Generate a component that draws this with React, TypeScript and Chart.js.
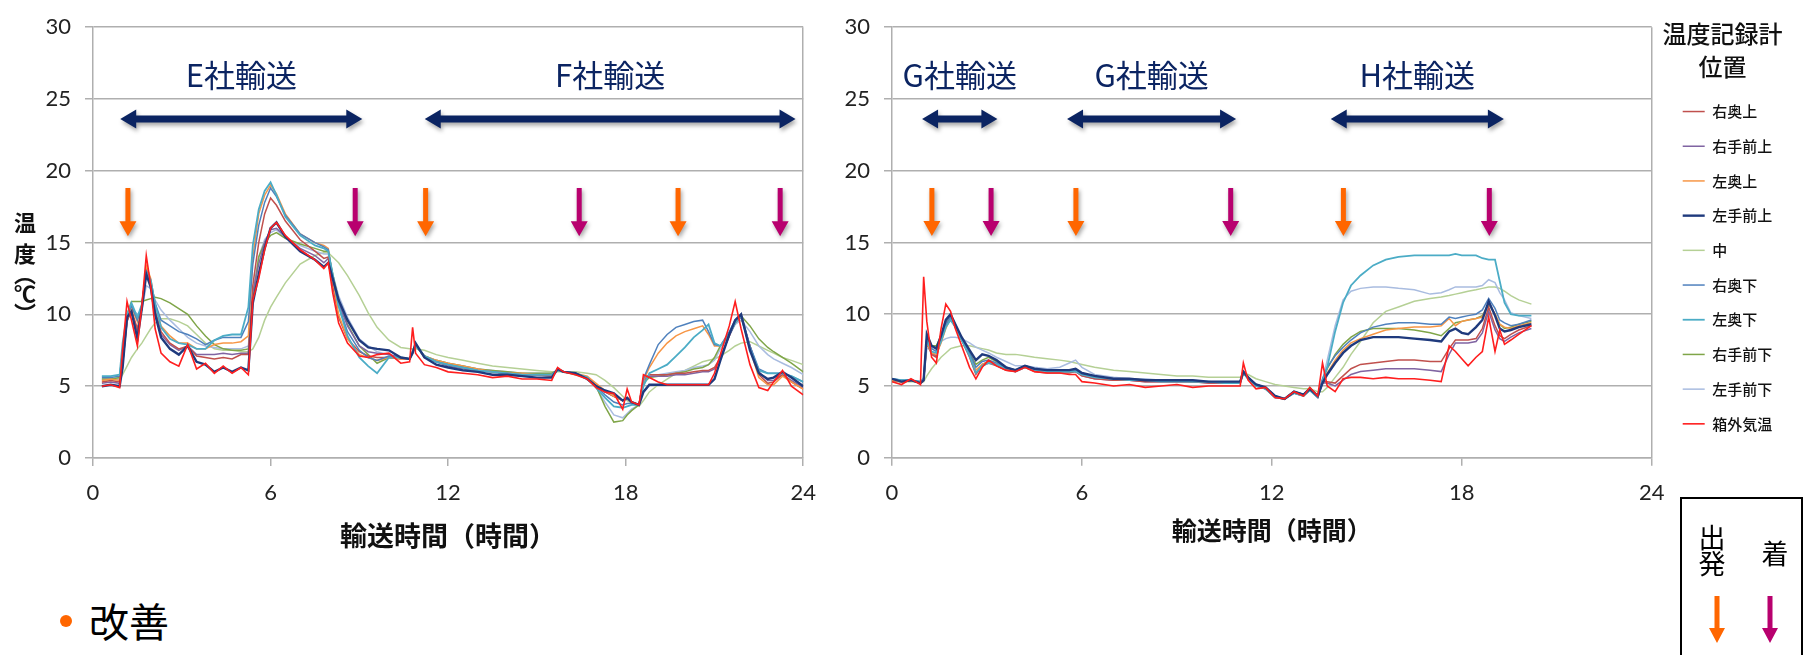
import React, { useEffect, useRef } from "react";
import { Chart, registerables } from "chart.js";

Chart.register(...registerables);

// ---------- series meta ----------
const SERIES_NAMES = ["右奥上", "右手前上", "左奥上", "左手前上", "中", "右奥下", "左奥下", "右手前下", "左手前下", "箱外気温"];
const SERIES_COLORS = ["#C0504D", "#8064A2", "#F79646", "#1F3A7D", "#B5D095", "#4F81BD", "#4BACC6", "#7FA548", "#A9BCE0", "#FF1E1E"];
const SERIES_WIDTHS = [1.5, 1.5, 1.5, 2.4, 1.5, 1.5, 1.8, 1.5, 1.5, 1.6];
const SERIES_ORDER = [5, 6, 4, 1, 9, 3, 2, 7, 8, 0];

// ---------- left chart (E社 / F社) ----------
const LEFT_T = [0.3, 0.6, 0.9, 1.0, 1.15, 1.3, 1.5, 1.65, 1.8, 1.95, 2.1, 2.3, 2.6, 2.9, 3.2, 3.5, 3.8, 4.1, 4.4, 4.7, 5.0, 5.25, 5.4, 5.6, 5.8, 6.0, 6.2, 6.5, 7.0, 7.5, 7.8, 7.95, 8.1, 8.3, 8.6, 9.0, 9.3, 9.6, 10.0, 10.4, 10.7, 10.8, 10.9, 11.2, 11.6, 12.0, 12.5, 13.0, 13.5, 14.0, 14.5, 15.0, 15.5, 15.7, 15.9, 16.3, 16.7, 17.0, 17.3, 17.6, 17.9, 18.05, 18.2, 18.45, 18.6, 18.8, 19.1, 19.4, 19.7, 20.0, 20.3, 20.6, 20.8, 21.0, 21.2, 21.5, 21.7, 21.9, 22.2, 22.5, 22.8, 23.0, 23.3, 23.6, 24.0];

const L_MIGI_OKU_UE = [5.3, 5.4, 5.3, 6.5, 9.5, 10.3, 9.0, 10.5, 13.2, 12.2, 10.3, 8.8, 8.0, 7.6, 7.8, 7.1, 7.0, 6.9, 7.0, 6.9, 7.2, 7.2, 12.0, 15.0, 17.0, 18.1, 17.6, 16.5, 15.2, 14.4, 13.9, 14.0, 12.0, 9.8, 8.3, 7.4, 7.1, 7.0, 7.0, 6.9, 6.9, 7.4, 7.9, 7.0, 6.7, 6.5, 6.3, 6.1, 6.0, 5.9, 5.8, 5.8, 5.7, 6.2, 6.0, 5.9, 5.6, 5.1, 4.6, 4.3, 4.0, 4.2, 3.9, 3.7, 5.5, 5.8, 5.8, 5.8, 5.9, 5.9, 6.0, 6.1, 6.1, 6.3, 7.0, 8.5, 9.5, 9.9, 7.8, 5.8, 5.2, 5.3, 5.8, 5.3, 4.8];
const L_MIGI_TEMAE_UE = [5.2, 5.3, 5.2, 6.5, 9.6, 10.2, 8.8, 10.4, 13.0, 12.0, 10.2, 8.6, 7.9, 7.5, 7.8, 7.2, 7.2, 7.2, 7.3, 7.2, 7.3, 7.3, 11.5, 13.5, 15.0, 15.9, 16.0, 15.4, 14.6, 14.1, 13.6, 13.9, 12.5, 10.8, 9.2, 7.8, 7.4, 7.3, 7.2, 7.0, 6.9, 7.4, 7.9, 7.0, 6.7, 6.4, 6.2, 6.1, 6.0, 5.9, 5.8, 5.8, 5.7, 6.2, 6.0, 5.9, 5.6, 5.0, 4.6, 4.3, 4.0, 4.1, 3.9, 3.7, 5.4, 5.7, 5.7, 5.7, 5.8, 5.8, 5.9, 6.0, 6.0, 6.2, 7.0, 8.5, 9.4, 9.8, 7.8, 6.0, 5.4, 5.4, 5.8, 5.4, 4.9];
const L_HIDARI_OKU_UE = [5.4, 5.5, 5.4, 6.8, 9.7, 10.5, 9.5, 10.7, 13.4, 12.5, 10.7, 9.2, 8.5, 8.0, 8.0, 7.6, 7.6, 7.9, 8.0, 8.0, 8.1, 8.5, 14.0, 17.0, 18.3, 19.0, 18.4, 17.0, 15.6, 15.0, 14.8, 14.6, 12.5, 10.0, 8.3, 7.2, 7.0, 6.8, 7.0, 6.9, 6.9, 7.4, 7.8, 7.1, 6.8, 6.6, 6.4, 6.2, 6.0, 5.9, 5.9, 5.8, 5.8, 6.1, 6.0, 5.9, 5.7, 5.2, 4.7, 4.3, 4.0, 4.2, 3.9, 3.7, 5.4, 6.3, 7.3, 8.0, 8.5, 8.8, 9.0, 9.2, 8.6, 7.8, 7.8, 8.7, 9.4, 9.9, 7.6, 5.6, 5.1, 5.1, 5.7, 5.3, 4.8];
const L_HIDARI_TEMAE_UE = [5.0, 5.1, 5.0, 6.3, 9.8, 10.2, 8.3, 10.4, 12.8, 11.9, 10.0, 8.4, 7.6, 7.2, 7.8, 6.7, 6.5, 6.0, 6.3, 6.0, 6.3, 6.1, 10.8, 12.8, 14.6, 16.0, 16.4, 15.4, 14.4, 13.8, 13.3, 13.6, 12.5, 11.0, 9.6, 8.2, 7.7, 7.6, 7.5, 7.0, 6.9, 7.3, 8.0, 7.0, 6.5, 6.3, 6.1, 6.0, 5.8, 5.8, 5.7, 5.6, 5.6, 6.2, 6.0, 5.9, 5.5, 5.0, 4.7, 4.5, 4.0, 4.2, 3.9, 3.7, 4.6, 5.1, 5.1, 5.1, 5.1, 5.1, 5.1, 5.1, 5.1, 5.5, 6.8, 8.6, 9.6, 10.0, 7.5, 5.9, 5.5, 5.6, 6.0, 5.6, 5.0];
const L_NAKA = [5.4, 5.4, 5.5, 5.8, 6.4, 7.0, 7.6, 8.0, 8.5, 9.0, 9.4, 9.7, 9.7, 9.5, 9.2, 8.6, 8.0, 7.6, 7.5, 7.5, 7.4, 7.4, 7.6, 8.4, 9.6, 10.5, 11.2, 12.2, 13.5, 14.1, 14.3, 14.3, 14.0, 13.6, 12.7, 11.3, 10.1, 9.1, 8.2, 7.7, 7.6, 7.6, 7.6, 7.5, 7.2, 7.0, 6.8, 6.6, 6.4, 6.3, 6.2, 6.1, 6.0, 6.0, 6.0, 6.0, 5.9, 5.8, 5.4, 4.9, 4.3, 4.0, 3.8, 3.6, 4.0, 4.6, 5.1, 5.5, 5.9, 6.1, 6.4, 6.7, 6.8, 6.9, 7.1, 7.5, 7.8, 8.0, 8.1, 7.8, 7.5, 7.3, 7.0, 6.8, 6.5];
const L_MIGI_OKU_SHITA = [5.6, 5.6, 5.7, 7.5, 9.8, 10.6, 9.6, 10.6, 13.0, 12.3, 10.8, 9.6, 9.2, 8.8, 8.6, 8.3, 7.9, 8.2, 8.4, 8.4, 8.4, 9.5, 13.5, 16.2, 17.8, 18.8, 18.2, 16.9, 15.6, 15.0, 14.7, 14.5, 12.6, 10.6, 8.8, 7.5, 7.0, 6.8, 7.1, 7.0, 6.9, 7.4, 7.9, 7.1, 6.7, 6.5, 6.3, 6.1, 6.0, 5.9, 5.8, 5.8, 5.8, 6.2, 6.0, 5.9, 5.6, 5.0, 4.4, 3.9, 3.7, 3.8, 3.8, 3.7, 5.5, 6.5, 7.9, 8.6, 9.1, 9.3, 9.5, 9.6, 8.8, 7.9, 7.8, 8.8, 9.6, 10.0, 7.8, 6.2, 5.9, 5.9, 5.9, 5.7, 5.3];
const L_HIDARI_OKU_SHITA = [5.7, 5.7, 5.8, 8.0, 10.0, 10.8, 9.8, 10.7, 12.9, 12.4, 10.7, 9.1, 8.3, 8.0, 7.9, 7.6, 7.6, 8.2, 8.5, 8.6, 8.6, 10.5, 14.8, 17.3, 18.6, 19.2, 18.3, 16.8, 15.5, 14.8, 14.6, 14.4, 12.8, 10.6, 8.5, 7.0, 6.4, 5.9, 7.0, 7.0, 6.9, 7.4, 7.8, 7.1, 6.7, 6.5, 6.3, 6.1, 6.0, 5.9, 5.8, 5.8, 5.8, 6.1, 6.0, 5.9, 5.6, 4.9, 4.2, 3.6, 3.5, 3.6, 3.7, 3.7, 5.0, 5.9, 6.2, 6.5, 7.1, 7.7, 8.4, 8.9, 9.3, 8.0, 7.8, 8.6, 9.4, 9.9, 7.6, 6.1, 5.9, 5.9, 5.9, 5.7, 5.3];
const L_MIGI_TEMAE_SHITA = [5.5, 5.5, 5.6, 7.5, 10.0, 10.9, 10.9, 10.9, 11.0, 11.1, 11.2, 11.1, 10.8, 10.4, 10.0, 9.2, 8.5, 7.9, 7.6, 7.5, 7.5, 7.6, 11.0, 14.0, 15.0, 15.5, 15.7, 15.3, 14.9, 14.6, 14.4, 14.4, 12.8, 11.0, 9.3, 7.8, 7.2, 6.6, 7.0, 7.0, 6.9, 7.3, 7.8, 7.1, 6.8, 6.6, 6.4, 6.2, 6.1, 6.0, 5.9, 5.9, 5.9, 6.1, 6.0, 5.8, 5.6, 5.0, 3.6, 2.5, 2.6, 3.0, 3.3, 3.7, 5.2, 5.6, 5.7, 5.8, 5.9, 6.0, 6.2, 6.3, 6.5, 7.0, 7.8, 8.6, 9.4, 9.9, 9.2, 8.3, 7.7, 7.4, 7.0, 6.6, 6.0];
const L_HIDARI_TEMAE_SHITA = [5.5, 5.5, 5.5, 7.0, 9.5, 10.4, 10.0, 10.3, 12.0, 11.8, 11.0, 10.3, 9.6, 9.0, 8.4, 8.0, 7.8, 7.7, 7.6, 7.6, 7.6, 7.8, 11.5, 14.0, 15.2, 15.7, 15.9, 15.3, 14.8, 14.4, 14.2, 14.2, 12.8, 11.3, 9.8, 8.3, 7.8, 7.4, 7.2, 7.0, 6.9, 7.4, 7.8, 7.1, 6.8, 6.6, 6.4, 6.2, 6.1, 6.0, 5.9, 5.9, 5.9, 6.1, 6.0, 5.9, 5.6, 4.9, 3.9, 3.0, 2.8, 3.1, 3.4, 3.7, 5.3, 5.7, 5.8, 5.9, 6.0, 6.1, 6.3, 6.4, 6.5, 6.8, 7.6, 8.5, 9.3, 9.6, 8.8, 7.8, 7.2, 6.9, 6.6, 6.3, 5.8];
const L_HAKOGAI = [5.0, 5.1, 4.9, 7.5, 10.9, 9.6, 7.8, 10.6, 14.1, 12.0, 9.0, 7.3, 6.7, 6.4, 7.9, 6.2, 6.6, 5.9, 6.4, 5.9, 6.3, 5.8, 11.0, 12.5, 14.5, 16.0, 16.4, 15.5, 14.5, 13.8, 13.2, 13.6, 11.5, 9.4, 8.0, 7.1, 7.0, 7.2, 7.3, 6.6, 6.7, 9.1, 7.3, 6.5, 6.3, 6.0, 5.9, 5.8, 5.6, 5.7, 5.5, 5.5, 5.4, 6.3, 6.0, 5.8, 5.5, 4.9, 4.6, 4.5, 3.4, 4.8, 3.9, 3.7, 5.8, 5.6, 5.3, 5.1, 5.1, 5.1, 5.1, 5.1, 5.1, 5.9, 7.2, 9.2, 10.9, 9.0, 6.5, 4.9, 4.7, 5.3, 6.1, 5.0, 4.4];

const LEFT_SERIES = [L_MIGI_OKU_UE, L_MIGI_TEMAE_UE, L_HIDARI_OKU_UE, L_HIDARI_TEMAE_UE, L_NAKA, L_MIGI_OKU_SHITA, L_HIDARI_OKU_SHITA, L_MIGI_TEMAE_SHITA, L_HIDARI_TEMAE_SHITA, L_HAKOGAI];

// ---------- right chart (G社 / H社) ----------
const RIGHT_T = [0, 0.3, 0.6, 0.9, 1.0, 1.1, 1.25, 1.4, 1.55, 1.7, 1.85, 2.0, 2.2, 2.45, 2.65, 2.85, 3.05, 3.3, 3.6, 3.9, 4.2, 4.5, 4.9, 5.3, 5.6, 5.8, 6.0, 6.4, 7.0, 7.5, 8.0, 8.5, 9.0, 9.5, 10.0, 10.5, 11.0, 11.1, 11.25, 11.5, 11.8, 12.1, 12.4, 12.7, 13.0, 13.2, 13.45, 13.6, 13.75, 14.0, 14.25, 14.5, 14.8, 15.2, 15.6, 16.0, 16.5, 17.0, 17.35, 17.6, 17.8, 18.0, 18.2, 18.45, 18.65, 18.85, 19.05, 19.2, 19.35, 19.55, 19.8, 20.2];

const R_MIGI_OKU_UE = [5.4, 5.3, 5.4, 5.2, 5.4, 8.0, 7.2, 7.0, 8.2, 9.3, 9.8, 9.1, 8.2, 7.0, 5.8, 6.4, 6.6, 6.4, 6.1, 6.0, 6.3, 6.0, 5.9, 5.9, 5.9, 6.0, 5.7, 5.5, 5.4, 5.4, 5.3, 5.3, 5.3, 5.3, 5.2, 5.2, 5.2, 5.9, 5.5, 5.0, 4.8, 4.2, 4.1, 4.5, 4.3, 4.7, 4.2, 5.3, 5.3, 5.2, 5.7, 6.2, 6.5, 6.6, 6.7, 6.8, 6.8, 6.7, 6.7, 7.6, 8.2, 8.2, 8.2, 8.3, 9.0, 10.5, 9.2, 8.5, 8.3, 8.6, 8.9, 9.2];
const R_MIGI_TEMAE_UE = [5.4, 5.3, 5.4, 5.2, 5.4, 8.1, 7.3, 7.1, 8.2, 9.2, 9.7, 9.1, 8.2, 7.1, 5.9, 6.5, 6.7, 6.5, 6.2, 6.0, 6.3, 6.1, 6.0, 6.0, 6.0, 6.0, 5.7, 5.5, 5.4, 5.4, 5.3, 5.3, 5.3, 5.3, 5.2, 5.2, 5.2, 5.9, 5.5, 5.0, 4.8, 4.2, 4.1, 4.5, 4.3, 4.7, 4.2, 5.2, 5.2, 5.0, 5.4, 5.8, 6.0, 6.1, 6.2, 6.2, 6.2, 6.1, 6.0, 7.2, 8.0, 8.0, 8.0, 8.1, 8.7, 10.2, 8.9, 8.3, 8.1, 8.4, 8.7, 9.0];
const R_HIDARI_OKU_UE = [5.4, 5.3, 5.4, 5.2, 5.4, 8.0, 7.3, 7.2, 8.0, 9.0, 9.7, 9.2, 8.3, 7.2, 6.1, 6.5, 6.7, 6.5, 6.2, 6.1, 6.3, 6.1, 6.0, 6.0, 6.0, 6.1, 5.8, 5.6, 5.5, 5.5, 5.4, 5.4, 5.4, 5.3, 5.3, 5.3, 5.3, 5.9, 5.5, 5.0, 4.8, 4.3, 4.1, 4.6, 4.3, 4.8, 4.3, 5.3, 5.9, 6.8, 7.5, 8.0, 8.3, 8.6, 8.9, 9.0, 9.1, 9.1, 9.2, 9.7, 9.2, 9.5, 9.6, 9.7, 9.8, 10.8, 10.0, 9.3, 9.1, 9.0, 9.2, 9.4];
const R_HIDARI_TEMAE_UE = [5.5, 5.3, 5.4, 5.2, 5.4, 8.6, 7.8, 7.6, 8.5, 9.6, 10.0, 9.3, 8.4, 7.5, 6.8, 7.2, 7.1, 6.8, 6.3, 6.1, 6.4, 6.2, 6.1, 6.1, 6.1, 6.2, 5.9, 5.7, 5.5, 5.5, 5.4, 5.4, 5.4, 5.4, 5.3, 5.3, 5.3, 6.0, 5.6, 5.1, 4.9, 4.3, 4.1, 4.6, 4.4, 4.8, 4.3, 5.2, 5.8, 6.6, 7.3, 7.8, 8.2, 8.4, 8.4, 8.4, 8.3, 8.2, 8.1, 8.8, 9.0, 8.7, 8.6, 9.1, 9.6, 10.9, 9.9, 9.0, 8.8, 8.9, 9.1, 9.3];
const R_NAKA = [5.3, 5.3, 5.3, 5.3, 5.3, 5.7, 6.2, 6.6, 7.0, 7.3, 7.6, 7.7, 7.8, 7.8, 7.7, 7.6, 7.5, 7.3, 7.2, 7.2, 7.1, 7.0, 6.9, 6.8, 6.7, 6.6, 6.5, 6.3, 6.1, 6.0, 5.9, 5.8, 5.7, 5.7, 5.6, 5.6, 5.6, 5.9, 5.8, 5.5, 5.3, 5.1, 5.0, 4.9, 4.8, 4.8, 4.6, 4.6, 4.9, 5.6, 6.3, 7.2, 8.1, 9.4, 10.2, 10.5, 10.9, 11.1, 11.2, 11.3, 11.4, 11.5, 11.6, 11.7, 11.8, 11.9, 11.9, 11.8, 11.6, 11.3, 11.0, 10.7];
const R_MIGI_OKU_SHITA = [5.5, 5.4, 5.4, 5.3, 5.5, 8.4, 7.6, 7.4, 8.3, 9.3, 9.8, 9.2, 8.3, 7.3, 6.3, 6.7, 6.8, 6.6, 6.3, 6.1, 6.4, 6.2, 6.0, 6.0, 6.0, 6.1, 5.8, 5.6, 5.5, 5.5, 5.4, 5.4, 5.4, 5.3, 5.3, 5.3, 5.3, 6.0, 5.6, 5.1, 4.9, 4.3, 4.1, 4.6, 4.4, 4.8, 4.3, 5.5, 6.3, 7.1, 7.7, 8.2, 8.7, 9.1, 9.3, 9.4, 9.4, 9.3, 9.3, 9.8, 9.7, 9.8, 9.9, 10.0, 10.3, 11.1, 10.4, 9.6, 9.4, 9.2, 9.3, 9.6];
const R_HIDARI_OKU_SHITA = [5.5, 5.4, 5.4, 5.3, 5.5, 8.2, 7.4, 7.3, 8.1, 9.1, 9.6, 9.1, 8.2, 7.1, 5.9, 6.4, 6.6, 6.5, 6.2, 6.0, 6.3, 6.1, 6.0, 6.0, 6.0, 6.0, 5.8, 5.6, 5.5, 5.4, 5.4, 5.3, 5.3, 5.3, 5.3, 5.2, 5.2, 5.9, 5.5, 5.0, 4.8, 4.2, 4.1, 4.5, 4.3, 4.7, 4.2, 5.3, 6.3, 8.8, 10.8, 12.0, 12.7, 13.4, 13.8, 14.0, 14.1, 14.1, 14.1, 14.1, 14.2, 14.1, 14.1, 14.1, 13.9, 13.8, 13.8, 12.3, 10.8, 10.0, 9.9, 9.9];
const R_MIGI_TEMAE_SHITA = [5.4, 5.3, 5.4, 5.2, 5.4, 8.3, 7.8, 7.8, 8.5, 9.4, 9.9, 9.3, 8.3, 7.3, 6.5, 6.8, 7.0, 6.7, 6.3, 6.1, 6.4, 6.2, 6.1, 6.1, 6.1, 6.1, 5.9, 5.6, 5.5, 5.5, 5.4, 5.4, 5.4, 5.3, 5.3, 5.3, 5.3, 6.0, 5.6, 5.1, 4.9, 4.3, 4.1, 4.6, 4.4, 4.9, 4.3, 5.4, 6.2, 7.2, 7.9, 8.4, 8.8, 9.0, 9.0, 9.0, 8.9, 8.7, 8.5, 9.0, 9.4, 9.5, 9.6, 9.7, 9.9, 10.7, 10.0, 9.3, 9.0, 9.1, 9.3, 9.5];
const R_HIDARI_TEMAE_SHITA = [5.5, 5.4, 5.4, 5.3, 5.4, 7.6, 7.6, 7.8, 8.1, 8.3, 8.4, 8.4, 8.3, 8.0, 7.7, 7.5, 7.3, 7.0, 6.7, 6.4, 6.4, 6.3, 6.2, 6.3, 6.6, 6.8, 6.3, 5.8, 5.6, 5.5, 5.5, 5.4, 5.4, 5.4, 5.3, 5.3, 5.3, 6.0, 5.6, 5.1, 4.9, 4.3, 4.1, 4.6, 4.4, 4.8, 4.3, 5.4, 6.8, 9.2, 11.0, 11.6, 11.8, 11.9, 11.9, 11.8, 11.7, 11.4, 11.5, 11.7, 11.9, 11.9, 11.9, 11.9, 12.0, 12.4, 12.2, 11.5, 11.0, 10.1, 9.9, 9.7];
const R_HAKOGAI = [5.3, 5.1, 5.5, 5.1, 12.6, 9.5, 7.0, 6.6, 9.0, 10.7, 10.2, 9.0, 7.8, 6.3, 5.5, 6.3, 6.8, 6.4, 6.1, 6.0, 6.3, 6.0, 5.9, 5.9, 5.8, 5.8, 5.3, 5.2, 5.0, 5.1, 4.9, 5.0, 5.1, 4.9, 5.0, 5.0, 5.0, 6.6, 5.4, 4.8, 4.9, 4.2, 4.1, 4.6, 4.3, 4.9, 4.3, 6.6, 5.0, 4.6, 5.5, 5.6, 5.6, 5.5, 5.6, 5.5, 5.5, 5.4, 5.3, 7.8, 7.4, 6.9, 6.4, 7.0, 7.4, 9.8, 7.4, 8.9, 7.9, 8.2, 8.6, 9.2];

const RIGHT_SERIES = [R_MIGI_OKU_UE, R_MIGI_TEMAE_UE, R_HIDARI_OKU_UE, R_HIDARI_TEMAE_UE, R_NAKA, R_MIGI_OKU_SHITA, R_HIDARI_OKU_SHITA, R_MIGI_TEMAE_SHITA, R_HIDARI_TEMAE_SHITA, R_HAKOGAI];

// ---------- annotations (data units: hours / °C) ----------
const LEFT_SPAN_LABELS = ["E社輸送", "F社輸送"];
const LEFT_SPAN_FROM = [0.92, 11.21];
const LEFT_SPAN_TO = [9.1, 23.74];
const RIGHT_SPAN_LABELS = ["G社輸送", "G社輸送", "H社輸送"];
const RIGHT_SPAN_FROM = [0.95, 5.53, 13.86];
const RIGHT_SPAN_TO = [3.33, 10.87, 19.33];
const SPAN_ARROW_LEVEL = 23.6;
const SPAN_LABEL_LEVEL = 26.65;
const MARK_TOP = 18.8;
const MARK_TIP = 15.45;
const LEFT_DEPART = [1.18, 11.24, 19.77];
const LEFT_ARRIVE = [8.86, 16.43, 23.22];
const RIGHT_DEPART = [1.26, 5.81, 14.26];
const RIGHT_ARRIVE = [3.13, 10.7, 18.87];

const X_TICKS_STEP = 6;
const Y_TICKS_STEP = 5;

// ---------- styles ----------
const GRID = "#AFAFAF";
const NAVY = "#0B2462";
const ORANGE = "#FF6600";
const MAGENTA = "#B8006E";
const CJK = '"Noto Sans CJK JP", "Noto Sans CJK SC", sans-serif';
const NUM = 'Lato, "Noto Sans CJK JP", sans-serif';

function drawDownArrow(ctx: CanvasRenderingContext2D, x: number, yTop: number, yTip: number, color: string) {
  const shaft = 5, headW = 17, headL = 15;
  ctx.save();
  ctx.shadowColor = "rgba(0,0,0,0.35)";
  ctx.shadowBlur = 4;
  ctx.shadowOffsetX = 1.5;
  ctx.shadowOffsetY = 2.5;
  ctx.fillStyle = color;
  ctx.beginPath();
  ctx.moveTo(x - shaft / 2, yTop);
  ctx.lineTo(x + shaft / 2, yTop);
  ctx.lineTo(x + shaft / 2, yTip - headL);
  ctx.lineTo(x + headW / 2, yTip - headL);
  ctx.lineTo(x, yTip);
  ctx.lineTo(x - headW / 2, yTip - headL);
  ctx.lineTo(x - shaft / 2, yTip - headL);
  ctx.closePath();
  ctx.fill();
  ctx.restore();
}

function drawDoubleArrow(ctx: CanvasRenderingContext2D, x1: number, x2: number, y: number, color: string) {
  const shaft = 7, headH = 19, headL = 16;
  ctx.save();
  ctx.shadowColor = "rgba(0,0,0,0.35)";
  ctx.shadowBlur = 4;
  ctx.shadowOffsetX = 1.5;
  ctx.shadowOffsetY = 3;
  ctx.fillStyle = color;
  ctx.beginPath();
  ctx.moveTo(x1, y);
  ctx.lineTo(x1 + headL, y - headH / 2);
  ctx.lineTo(x1 + headL, y - shaft / 2);
  ctx.lineTo(x2 - headL, y - shaft / 2);
  ctx.lineTo(x2 - headL, y - headH / 2);
  ctx.lineTo(x2, y);
  ctx.lineTo(x2 - headL, y + headH / 2);
  ctx.lineTo(x2 - headL, y + shaft / 2);
  ctx.lineTo(x1 + headL, y + shaft / 2);
  ctx.lineTo(x1 + headL, y + headH / 2);
  ctx.closePath();
  ctx.fill();
  ctx.restore();
}

function annotationPlugin(labels: string[], from: number[], to: number[], departs: number[], arrives: number[], yTitle: string[] | null) {
  return {
    id: "annotations",
    afterDatasetsDraw(chart: any) {
      const ctx: CanvasRenderingContext2D = chart.ctx;
      const xs = chart.scales.x;
      const ys = chart.scales.y;
      const yArrow = ys.getPixelForValue(SPAN_ARROW_LEVEL);
      const yLabel = ys.getPixelForValue(SPAN_LABEL_LEVEL);
      labels.forEach((lab, i) => {
        const x1 = xs.getPixelForValue(from[i]);
        const x2 = xs.getPixelForValue(to[i]);
        drawDoubleArrow(ctx, x1, x2, yArrow, NAVY);
        ctx.save();
        ctx.font = `31px ${CJK}`;
        ctx.fillStyle = NAVY;
        ctx.textAlign = "center";
        ctx.textBaseline = "middle";
        ctx.fillText(lab, (x1 + x2) / 2, yLabel);
        ctx.restore();
      });
      const yTop = ys.getPixelForValue(MARK_TOP);
      const yTip = ys.getPixelForValue(MARK_TIP);
      departs.forEach((h) => drawDownArrow(ctx, xs.getPixelForValue(h), yTop, yTip, ORANGE));
      arrives.forEach((h) => drawDownArrow(ctx, xs.getPixelForValue(h), yTop, yTip, MAGENTA));
      if (yTitle) {
        ctx.save();
        ctx.font = `bold 22px ${CJK}`;
        ctx.fillStyle = "#111";
        ctx.textAlign = "center";
        ctx.textBaseline = "middle";
        const ys2 = [223, 254, 274, 294, 314];
        yTitle.forEach((ch, i) => ctx.fillText(ch, 25, ys2[i]));
        ctx.restore();
      }
    },
  };
}

const legendShift = {
  id: "legendShift",
  afterLayout(chart: any) {
    const lg = chart.legend;
    if (lg && lg.options.display) {
      lg.left += 11.3;
      lg.right += 11.3;
    }
  },
};

function makeDatasets(times: number[], series: number[][]) {
  return series.map((vals, i) => ({
    label: SERIES_NAMES[i],
    data: times.map((t, j) => ({ x: t, y: vals[j] })),
    borderColor: SERIES_COLORS[i],
    backgroundColor: SERIES_COLORS[i],
    borderWidth: SERIES_WIDTHS[i],
    pointRadius: 0,
    tension: 0,
    fill: false,
    order: SERIES_ORDER[i],
  }));
}

function makeScales(yWidth: number, xHeight: number, titleSize: number, titlePadBottom: number) {
  return {
    x: {
      type: "linear",
      min: 0,
      max: 24,
      ticks: { stepSize: X_TICKS_STEP, autoSkip: false, maxRotation: 0, padding: 14, color: "#222", font: { family: NUM, size: 22 } },
      grid: {
        drawOnChartArea: true,
        color: (c: any) => (c.tick && c.tick.value === 24 ? GRID : "rgba(0,0,0,0)"),
        tickColor: GRID,
        tickLength: 8,
        lineWidth: 1.5,
      },
      border: { color: GRID, width: 1.5 },
      title: {
        display: true,
        text: "輸送時間（時間）",
        color: "#111",
        font: { family: CJK, size: titleSize, weight: "bold" },
        padding: { top: 0, bottom: titlePadBottom },
      },
      afterFit: (s: any) => {
        s.height = xHeight;
      },
    },
    y: {
      min: 0,
      max: 30,
      ticks: { stepSize: Y_TICKS_STEP, padding: 14, color: "#222", font: { family: NUM, size: 22 } },
      grid: { color: GRID, lineWidth: 1.5, tickLength: 8 },
      border: { color: GRID, width: 1.5 },
      afterFit: (s: any) => {
        s.width = yWidth;
      },
    },
  };
}

export default function App() {
  const leftRef = useRef<HTMLCanvasElement>(null);
  const rightRef = useRef<HTMLCanvasElement>(null);

  useEffect(() => {
    const left = new Chart(leftRef.current as HTMLCanvasElement, {
      type: "line",
      data: { datasets: makeDatasets(LEFT_T, LEFT_SERIES) as any },
      options: {
        animation: false,
        responsive: false,
        maintainAspectRatio: false,
        devicePixelRatio: 1,
        layout: { padding: { left: 0, right: 24, top: 17, bottom: 0 } },
        plugins: { legend: { display: false }, tooltip: { enabled: false } },
        scales: makeScales(93, 102, 27, 8) as any,
      },
      plugins: [annotationPlugin(LEFT_SPAN_LABELS, LEFT_SPAN_FROM, LEFT_SPAN_TO, LEFT_DEPART, LEFT_ARRIVE, ["温", "度", "︵", "℃", "︶"])],
    });

    const right = new Chart(rightRef.current as HTMLCanvasElement, {
      type: "line",
      data: { datasets: makeDatasets(RIGHT_T, RIGHT_SERIES) as any },
      options: {
        animation: false,
        responsive: false,
        maintainAspectRatio: false,
        devicePixelRatio: 1,
        layout: { padding: { left: 0, right: 43.3, top: 19, bottom: 0 } },
        plugins: {
          tooltip: { enabled: false },
          legend: {
            display: true,
            position: "right",
            align: "start",
            maxWidth: 119,
            labels: {
              usePointStyle: true,
              pointStyle: "line",
              pointStyleWidth: 22,
              padding: 19.7,
              color: "#111",
              font: { family: CJK, size: 15, weight: "500" },
              sort: (a: any, b: any) => a.datasetIndex - b.datasetIndex,
            },
            title: {
              display: true,
              text: ["温度記録計", "位置"] as any,
              color: "#111",
              font: { family: CJK, size: 24, lineHeight: 1.36, weight: "500" },
              padding: { top: 3, bottom: 29.7 },
            },
          },
        },
        scales: makeScales(52, 102.3, 25, 15) as any,
      },
      plugins: [annotationPlugin(RIGHT_SPAN_LABELS, RIGHT_SPAN_FROM, RIGHT_SPAN_TO, RIGHT_DEPART, RIGHT_ARRIVE, null), legendShift],
    });

    return () => {
      left.destroy();
      right.destroy();
    };
  }, []);

  return (
    <div style={{ position: "absolute", left: 0, top: 0, width: 1814, height: 655, overflow: "hidden", background: "#fff", fontFamily: CJK }}>
      <canvas ref={leftRef} width={830} height={560} style={{ position: "absolute", left: 0, top: 0, width: 830, height: 560 }} />
      <canvas ref={rightRef} width={974} height={560} style={{ position: "absolute", left: 840, top: 0, width: 974, height: 560 }} />

      {/* key box: 出発 / 着 */}
      <div style={{ position: "absolute", left: 1680, top: 497, width: 119, height: 200, border: "2px solid #000" }} />
      <div style={{ position: "absolute", left: 1697, top: 524, width: 30, fontSize: 27, lineHeight: "26px", color: "#000", textAlign: "center" }}>
        出<br />発
      </div>
      <div style={{ position: "absolute", left: 1760, top: 539, width: 30, fontSize: 27, lineHeight: "27px", color: "#000", textAlign: "center" }}>着</div>
      <svg style={{ position: "absolute", left: 1680, top: 580, width: 130, height: 75 }} width={130} height={75}>
        <polygon points="34.5,16 39.5,16 39.5,48 45,48 37,63 29,48 34.5,48" fill={ORANGE} />
        <polygon points="87.5,16 92.5,16 92.5,48 98,48 90,63 82,48 87.5,48" fill={MAGENTA} />
      </svg>

      {/* bullet */}
      <div style={{ position: "absolute", left: 60, top: 615, width: 12, height: 12, borderRadius: "50%", background: ORANGE }} />
      <div style={{ position: "absolute", left: 89, top: 600, fontSize: 40, lineHeight: "40px", color: "#000" }}>改善</div>
    </div>
  );
}
